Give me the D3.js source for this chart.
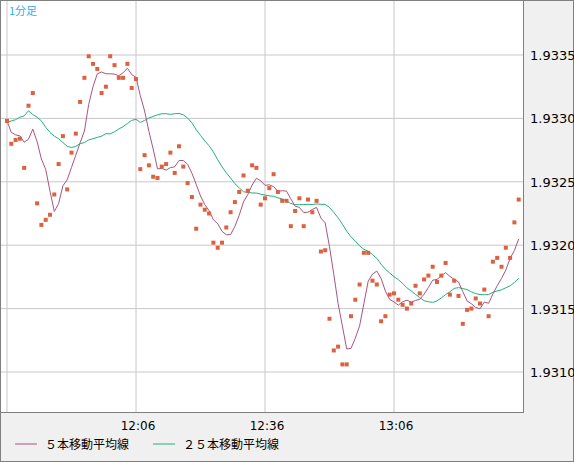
<!DOCTYPE html><html><head><meta charset="utf-8"><script src="https://cdn.jsdelivr.net/npm/d3@7"></script>
<style>body{margin:0;background:#f0f0f0}svg{display:block;font-family:"DejaVu Sans",sans-serif}</style></head><body>
<svg id="c" width="574" height="462"></svg>
<script>
const closes=[1.93298,1.93280,1.93283,1.93284,1.93261,1.93310,1.93320,1.93233,1.93216,1.93220,
1.93224,1.93240,1.93264,1.93286,1.93244,1.93273,1.93288,1.93313,1.93332,1.93349,
1.93343,1.93339,1.93320,1.93325,1.93349,1.93342,1.93332,1.93332,1.93343,1.93324,
1.93331,1.93260,1.93271,1.93263,1.93254,1.93253,1.93262,1.93264,1.93273,1.93257,
1.93278,1.93262,1.93249,1.93238,1.93213,1.93232,1.93228,1.93225,1.93202,1.93198,
1.93202,1.93214,1.93226,1.93234,1.93242,1.93255,1.93243,1.93263,1.93261,1.93232,
1.93237,1.93245,1.93256,1.93242,1.93235,1.93235,1.93215,1.93227,1.93237,1.93215,
1.93236,1.93226,1.93235,1.93195,1.93196,1.93142,1.93117,1.93120,1.93106,1.93106,
1.93144,1.93157,1.93169,1.93194,1.93194,1.93172,1.93169,1.93140,1.93144,1.93161,
1.93162,1.93157,1.93153,1.93150,1.93154,1.93168,1.93162,1.93173,1.93176,1.93183,
1.93171,1.93176,1.93186,1.93161,1.93172,1.93160,1.93138,1.93149,1.93150,1.93158,
1.93154,1.93165,1.93144,1.93187,1.93190,1.93183,1.93198,1.93190,1.93218,1.93236];
// 25-bar MA values for the first 24 bars (earlier bars not shown)
const ma25Head=[1.93297,1.93298,1.93299,1.93301,1.93302,1.93306,1.93303,1.93301,1.93298,1.93293,
1.93289,1.93286,1.93284,1.93281,1.93278,1.93277,1.93278,1.93280,1.93281,1.93283,1.93284,1.93285,1.93286,1.93288];
const tickLabels=["12:06","12:36","13:06"];
const yTicks=[1.9310,1.9315,1.9320,1.9325,1.9330,1.9335];
const legendLabels=["５本移動平均線","２５本移動平均線"];
const title="1分足";

const ma=(n,i)=>d3.mean(closes.slice(Math.max(0,i-n+1),i+1));
const ma5=closes.map((_,i)=>ma(5,i));
const ma25=closes.map((_,i)=>i<ma25Head.length?ma25Head[i]:ma(25,i));

const svg=d3.select("#c");
const L=1,R=523,T=1,B=412;
svg.append("rect").attr("x",0.5).attr("y",0.5).attr("width",573).attr("height",461).attr("fill","#f0f0f0").attr("stroke","#808080");
svg.append("rect").attr("x",L).attr("y",T).attr("width",R-L).attr("height",B-T).attr("fill","#fff");
const x=d3.scaleLinear().domain([0,120]).range([7,523]);
const y=d3.scaleLinear().domain([1.9310,1.9335]).range([372,55]);
const g=svg.append("g");
g.selectAll(".vg").data(tickLabels).join("line").attr("x1",(d,i)=>x(30+30*i)).attr("x2",(d,i)=>x(30+30*i)).attr("y1",T).attr("y2",B).attr("stroke","#c8c8c8");
g.append("line").attr("x1",x(0)).attr("x2",x(0)).attr("y1",T).attr("y2",B).attr("stroke","#c8c8c8");
g.selectAll(".hg").data(yTicks).join("line").attr("x1",L).attr("x2",R).attr("y1",d=>y(d)).attr("y2",d=>y(d)).attr("stroke","#c8c8c8");
svg.append("rect").attr("x",0.5).attr("y",0.5).attr("width",R).attr("height",B).attr("fill","none").attr("stroke","#808080");
svg.selectAll(".yl").data(yTicks).join("text").attr("x",530).attr("y",d=>y(d)+5).attr("font-size",13).attr("fill","#000").text(d=>d.toFixed(4));
svg.selectAll(".xl").data(tickLabels).join("text").attr("x",(d,i)=>x(30+30*i)+2).attr("y",430).attr("text-anchor","middle").attr("font-size",12).text(d=>d);
svg.append("text").attr("x",9).attr("y",15).attr("font-size",11).attr("fill","#33aaee").attr("font-family","Noto Sans CJK JP").text(title);
const line=d3.line().x((d,i)=>x(i)).y(d=>y(d));
svg.append("path").attr("d",line(ma25)).attr("fill","none").attr("stroke","#22b07a").attr("stroke-width",1);
svg.append("path").attr("d",line(ma5)).attr("fill","none").attr("stroke","#a85580").attr("stroke-width",1);
svg.selectAll(".pt").data(closes).join("rect").attr("x",(d,i)=>x(i)-2).attr("y",d=>y(d)-2).attr("width",4).attr("height",4).attr("fill","#dd6040");
const lg=[[15,"#a85580"],[153,"#22b07a"]];
lg.forEach(([lx,c],i)=>{
 svg.append("line").attr("x1",lx).attr("x2",lx+22).attr("y1",444).attr("y2",444).attr("stroke",c);
 svg.append("text").attr("x",lx+30).attr("y",449).attr("font-size",12).attr("font-family","Noto Sans CJK JP").text(legendLabels[i]);
});
</script></body></html>
